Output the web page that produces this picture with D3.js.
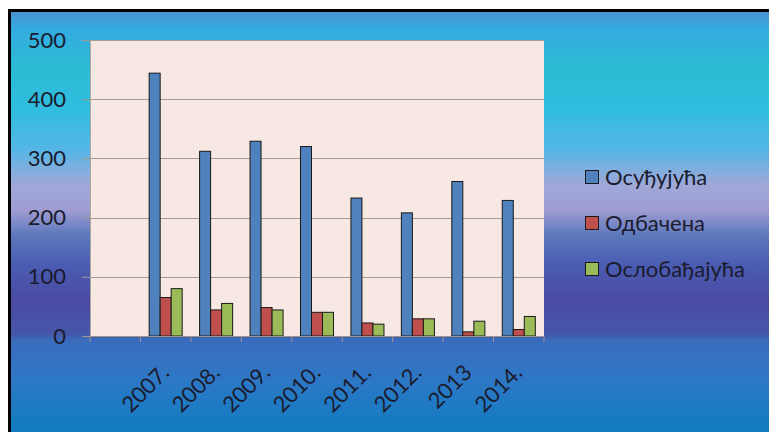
<!DOCTYPE html>
<html>
<head>
<meta charset="utf-8">
<script src="https://cdn.jsdelivr.net/npm/d3@7"></script>
<style>
  body { margin: 0; background: #fff; }
  svg { display: block; }
  text { font-family: Lato, "Open Sans", sans-serif; fill: #1b1b2e; }
</style>
</head>
<body>
<svg id="chart" width="769" height="432"></svg>
<script>
const svg = d3.select("#chart");

// data
const categories = ["", "2007.", "2008.", "2009.", "2010.", "2011.", "2012.", "2013", "2014."];
const seriesNames = ["Осуђујућа", "Одбачена", "Ослобађајућа"];
const osudjujuca = [null, 444, 312, 329, 320, 233, 208, 261, 229];
const odbacena = [null, 65, 44, 48, 40, 22, 29, 7, 11];
const oslobadjajuca = [null, 80, 55, 44, 40, 20, 29, 25, 33];
const yTicks = [0, 100, 200, 300, 400, 500];

const colors = ["#4f81bd", "#c0504d", "#9bbb59"];
const series = [osudjujuca, odbacena, oslobadjajuca];

const plot = { left: 90, right: 544, top: 40, bottom: 336 };

// background gradient
const defs = svg.append("defs");
const grad = defs.append("linearGradient").attr("id", "bg")
    .attr("gradientUnits", "userSpaceOnUse")
    .attr("x1", 0).attr("y1", 0).attr("x2", 0).attr("y2", 432);
[
    [10, "#4a8fd2"], [30, "#33ace0"], [70, "#2cbcd4"], [110, "#30bde0"],
    [150, "#55b6e6"], [185, "#9fa8d8"], [210, "#a09cd2"], [235, "#5c78bc"],
    [265, "#4a5cb2"], [300, "#4a4aa2"], [334, "#4656a8"], [340, "#3a6cbc"],
    [380, "#2d78c6"], [432, "#107cc0"]
].forEach(([y, c]) => grad.append("stop").attr("offset", y / 432).attr("stop-color", c));

svg.append("rect").attr("x", 9.5).attr("y", 10.5).attr("width", 800).attr("height", 500)
    .attr("fill", "url(#bg)").attr("stroke", "#000").attr("stroke-width", 3);

const y = d3.scaleLinear().domain([0, 500]).range([plot.bottom, plot.top]);
const x0 = d3.scaleBand().domain(categories).range([plot.left, plot.right])
    .paddingInner(0.345).paddingOuter(0.1725);
const x1 = d3.scaleBand().domain(d3.range(series.length)).range([0, x0.bandwidth()]);

svg.append("rect").attr("x", plot.left).attr("y", plot.top)
    .attr("width", plot.right - plot.left).attr("height", plot.bottom - plot.top)
    .attr("fill", "#f7e8e3");

// gridlines + y axis
const yAxis = d3.axisLeft(y).tickValues(yTicks).tickSize(8).tickPadding(16);
const ya = svg.append("g").attr("transform", `translate(${plot.left},0)`).call(yAxis);
ya.select(".domain").attr("stroke", "#b0a8a0");
ya.selectAll(".tick line").attr("stroke", "#a09890");
ya.selectAll(".tick text").style("font-size", "22px").attr("fill", "#1b1b2e");

svg.append("g").selectAll("line").data(yTicks.filter(d => d > 0)).join("line")
    .attr("x1", plot.left).attr("x2", plot.right)
    .attr("y1", d => Math.round(y(d)) + 0.5).attr("y2", d => Math.round(y(d)) + 0.5)
    .attr("stroke", "#a39b94").attr("stroke-width", 1);

// bars
const groups = svg.append("g").selectAll("g").data(categories).join("g")
    .attr("transform", d => `translate(${x0(d)},0)`);
groups.selectAll("rect")
    .data((d, i) => series.map((s, k) => ({ k, v: s[i] })).filter(e => e.v != null))
    .join("rect")
    .attr("x", d => x1(d.k))
    .attr("y", d => y(d.v))
    .attr("width", x1.bandwidth())
    .attr("height", d => y(0) - y(d.v))
    .attr("fill", d => colors[d.k])
    .attr("stroke", "#1a1a1a").attr("stroke-width", 1);

// x axis
const step = x0.step();
const xa = svg.append("g");
xa.append("line").attr("x1", plot.left).attr("x2", plot.right)
    .attr("y1", plot.bottom + 0.5).attr("y2", plot.bottom + 0.5).attr("stroke", "#a09890");
xa.selectAll("line.tk").data(d3.range(categories.length + 1)).join("line").attr("class", "tk")
    .attr("x1", i => plot.left + i * step).attr("x2", i => plot.left + i * step)
    .attr("y1", plot.bottom).attr("y2", plot.bottom + 6).attr("stroke", "#a09890");
xa.selectAll("text").data(categories).join("text")
    .attr("transform", d => `translate(${x0(d) + x0.bandwidth() / 2 + 5},374) rotate(-45)`)
    .attr("text-anchor", "end")
    .style("font-size", "22px")
    .text(d => d);

// legend
const legend = svg.append("g").attr("transform", "translate(585,177)");
const row = legend.selectAll("g").data(seriesNames).join("g")
    .attr("transform", (d, i) => `translate(0,${i * 46})`);
row.append("rect").attr("x", 0.5).attr("y", -6.5).attr("width", 13).attr("height", 13)
    .attr("fill", (d, i) => colors[i]).attr("stroke", "#1a1a1a");
row.append("text").attr("x", 20).attr("dy", "0.36em").style("font-size", "22px").text(d => d);
</script>
</body>
</html>
